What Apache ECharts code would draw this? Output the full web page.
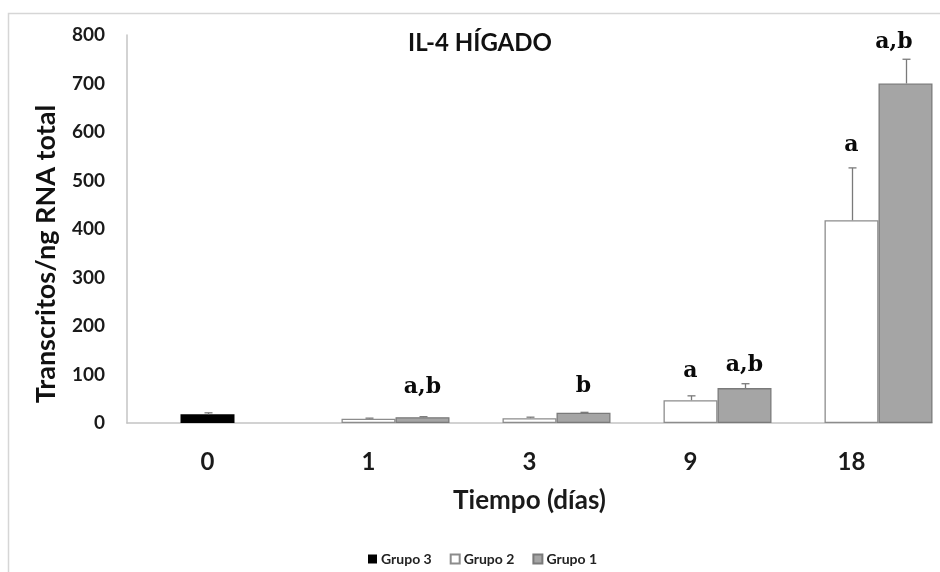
<!DOCTYPE html>
<html>
<head>
<meta charset="utf-8">
<script src="https://cdn.jsdelivr.net/npm/echarts@6/dist/echarts.min.js"></script>
<style>html,body{margin:0;padding:0;background:#fff}#c{width:940px;height:572px}</style>
</head>
<body>
<div id="c"></div>
<script>
var categories = ['0', '1', '3', '9', '18'];
var yTicks = [0, 100, 200, 300, 400, 500, 600, 700, 800];
var grupo3 = [18, null, null, null, null];
var grupo3Err = [3, null, null, null, null];
var grupo2 = [null, 9, 10, 47, 418];
var grupo2Err = [null, 1, 2, 9, 108];
var grupo1 = [null, 12, 21, 72, 700];
var grupo1Err = [null, 1, 1, 9, 50];
var annotLabels = ['a,b', 'b', 'a', 'a,b', 'a', 'a,b'];
var annotCategory = ['1', '3', '9', '9', '18', '18'];
var annotSeries = ['Grupo 1', 'Grupo 1', 'Grupo 2', 'Grupo 1', 'Grupo 2', 'Grupo 1'];
var annotLevel = [74, 76, 107, 119, 573, 784];

var BAR_W = 54;
// Slots: [empty, Grupo 3 / Grupo 2 (shared), Grupo 1], barGap 0
var slotOffset = { 'Grupo 3': 0, 'Grupo 2': 0, 'Grupo 1': BAR_W };
var SANS = 'Lato';

function errData(vals, errs) {
  var out = [];
  vals.forEach(function (v, i) { if (v != null && errs[i] != null) out.push([i, v, errs[i]]); });
  return out;
}
function errSeries(name, vals, errs) {
  var off = slotOffset[name];
  return {
    type: 'custom', name: name + ' err', z: 5, silent: true,
    data: errData(vals, errs),
    renderItem: function (params, api) {
      var x = api.value(0), v = api.value(1), e = api.value(2);
      var p0 = api.coord([x, v]);
      var p1 = api.coord([x, v + e]);
      var cx = Math.round(p0[0] + off) + 0.5;
      var st = { stroke: '#7a7a7a', lineWidth: 1.3 };
      return { type: 'group', children: [
        { type: 'line', shape: { x1: cx, y1: p0[1], x2: cx, y2: p1[1] }, style: st },
        { type: 'line', shape: { x1: cx - 4, y1: p1[1], x2: cx + 4, y2: p1[1] }, style: st }
      ]};
    }
  };
}

var annotData = annotLabels.map(function (t, i) {
  return [categories.indexOf(annotCategory[i]), annotLevel[i]];
});

var chart = echarts.init(document.getElementById('c'), null, { renderer: 'canvas' });
chart.setOption({
  backgroundColor: '#fff',
  animation: false,
  grid: { left: 127, right: 8, top: 35, bottom: 149, containLabel: false },
  legend: {
    data: ['Grupo 3', 'Grupo 2', 'Grupo 1'],
    left: 363, top: 547,
    itemWidth: 9, itemHeight: 9, itemGap: 18,
    icon: 'rect',
    textStyle: { fontFamily: SANS, fontWeight: 'bold', fontSize: 14, color: '#222', padding: [0, 0, 0, -1] }
  },
  xAxis: {
    type: 'category', data: categories,
    axisLine: { lineStyle: { color: '#c4c4c4', width: 1.5 } },
    axisTick: { show: false },
    axisLabel: { fontFamily: SANS, fontWeight: 'bold', fontSize: 24, color: '#1a1a1a', margin: 27 },
    name: 'Tiempo (días)', nameLocation: 'middle', nameGap: 65,
    nameTextStyle: { fontFamily: SANS, fontWeight: 'bold', fontSize: 26, color: '#1a1a1a' }
  },
  yAxis: {
    type: 'value', min: 0, max: 800, interval: 100,
    axisLine: { show: true, lineStyle: { color: '#c4c4c4', width: 1.5 } },
    axisTick: { show: false },
    splitLine: { show: false },
    axisLabel: { fontFamily: SANS, fontWeight: 'bold', fontSize: 19, color: '#1a1a1a', margin: 22,
      formatter: function (v) { return yTicks.indexOf(v) >= 0 ? String(v) : ''; } }
  },
  graphic: [
    { type: 'rect', shape: { x: 8.5, y: 13.5, width: 1000, height: 1000 },
      style: { fill: 'none', stroke: '#d6d6d6', lineWidth: 1.5 }, silent: true, z: -1 },
    { type: 'text', x: 480, y: 43,
      style: { text: 'IL-4 HÍGADO', font: 'bold 24px ' + SANS, fill: '#111', align: 'center', verticalAlign: 'middle' } },
    { type: 'text', x: 46, y: 254, rotation: Math.PI / 2,
      style: { text: 'Transcritos/ng RNA total', font: 'bold 27px ' + SANS, fill: '#111', align: 'center', verticalAlign: 'middle' } }
  ],
  series: [
    { type: 'bar', name: '_slot', data: [null, null, null, null, null], barWidth: BAR_W, barGap: '0%', silent: true },
    { type: 'bar', name: 'Grupo 3', data: grupo3, stack: 'shared', barWidth: BAR_W, barGap: '0%',
      itemStyle: { color: '#000000' } },
    { type: 'bar', name: 'Grupo 2', data: grupo2, stack: 'shared', barWidth: BAR_W, barGap: '0%',
      itemStyle: { color: '#ffffff', borderColor: '#8c8c8c', borderWidth: 1.3 } },
    { type: 'bar', name: 'Grupo 1', data: grupo1, barWidth: BAR_W, barGap: '0%',
      itemStyle: { color: '#a5a5a5', borderColor: '#7a7a7a', borderWidth: 1.3 } },
    errSeries('Grupo 2', grupo2, grupo2Err),
    errSeries('Grupo 3', grupo3, grupo3Err),
    errSeries('Grupo 1', grupo1, grupo1Err),
    {
      type: 'custom', name: 'annotations', z: 6, silent: true,
      data: annotData,
      renderItem: function (params, api) {
        var i = params.dataIndex;
        var p = api.coord([api.value(0), api.value(1)]);
        var x = p[0] + slotOffset[annotSeries[i]];
        var gridRight = api.getWidth() - 8;
        x = Math.min(x, gridRight - 38);
        return { type: 'text', x: x, y: p[1],
          style: { text: annotLabels[i], font: 'bold 22px "DejaVu Serif"', fill: '#0a0a0a', align: 'center', verticalAlign: 'middle' } };
      }
    }
  ]
});
</script>
</body>
</html>
